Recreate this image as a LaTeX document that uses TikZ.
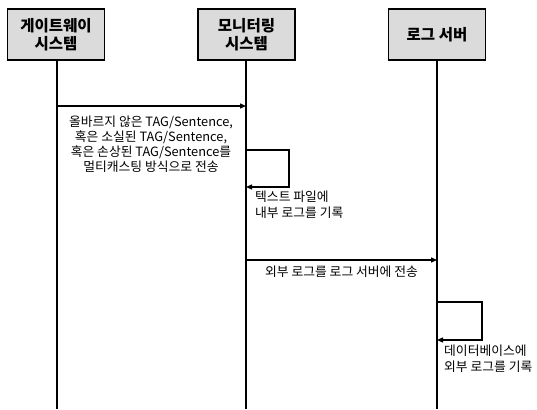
\documentclass[tikz,border=0pt]{standalone}
\usepackage{fontspec}
\setmainfont{Noto Sans CJK KR}
\usetikzlibrary{arrows.meta}
\begin{document}
\begin{tikzpicture}[x=1pt,y=-1pt,
  actor/.style={draw=black,line width=1.6pt,fill=gray!28,minimum width=97pt,minimum height=51pt,inner sep=0pt,align=center,font=\fontsize{15.5}{18}\selectfont\bfseries},
  life/.style={line width=1.6pt},
  msg/.style={line width=1.3pt,-{Triangle[length=6pt,width=5pt]}},
  lbl/.style={font=\fontsize{12.8}{15}\selectfont,align=center,inner sep=0pt},
  lbll/.style={font=\fontsize{12.8}{16}\selectfont,align=left,inner sep=0pt,anchor=north west}]
\useasboundingbox (0,0) rectangle (537,409);
\node[actor] (gw) at (56,34.5) {게이트웨이\\시스템};
\node[actor] (mon) at (246.5,34.5) {모니터링\\시스템};
\node[actor] (log) at (437,34.5) {로그 서버};
\coordinate (gwend) at (57,409);
\coordinate (monend) at (246,409);
\coordinate (logend) at (437,409);
\draw[life] (gw.south -| gwend) -- (gwend);
\draw[life] (mon.south -| monend) -- (monend);
\draw[life] (log.south -| logend) -- (logend);
% message 1
\coordinate (m1a) at (57,106);
\coordinate (m1b) at (246,106);
\draw[msg] (m1a) -- (m1b);
\node[lbl] (t1) at (151,144) {올바르지 않은 TAG/Sentence,\\혹은 소실된 TAG/Sentence,\\혹은 손상된 TAG/Sentence를\\멀티캐스팅 방식으로 전송};
% self loop 1
\coordinate (s1a) at (246,150);
\coordinate (s1r) at (289,150);
\coordinate (s1b) at (246,187);
\draw[msg] (s1a) -- (s1r) |- (s1b);
\node[lbll] (t2) at (255,191) {텍스트 파일에\\내부 로그를 기록};
% message 2
\coordinate (m2a) at (246,260);
\coordinate (m2b) at (437,260);
\draw[msg] (m2a) -- (m2b);
\node[lbl] (t3) at (341.5,271.5) {외부 로그를 로그 서버에 전송};
% self loop 2
\coordinate (s2a) at (437,302);
\coordinate (s2r) at (482,302);
\coordinate (s2b) at (437,340);
\draw[msg] (s2a) -- (s2r) |- (s2b);
\node[lbll] (t4) at (444,345) {데이터베이스에\\외부 로그를 기록};
\end{tikzpicture}
\end{document}
